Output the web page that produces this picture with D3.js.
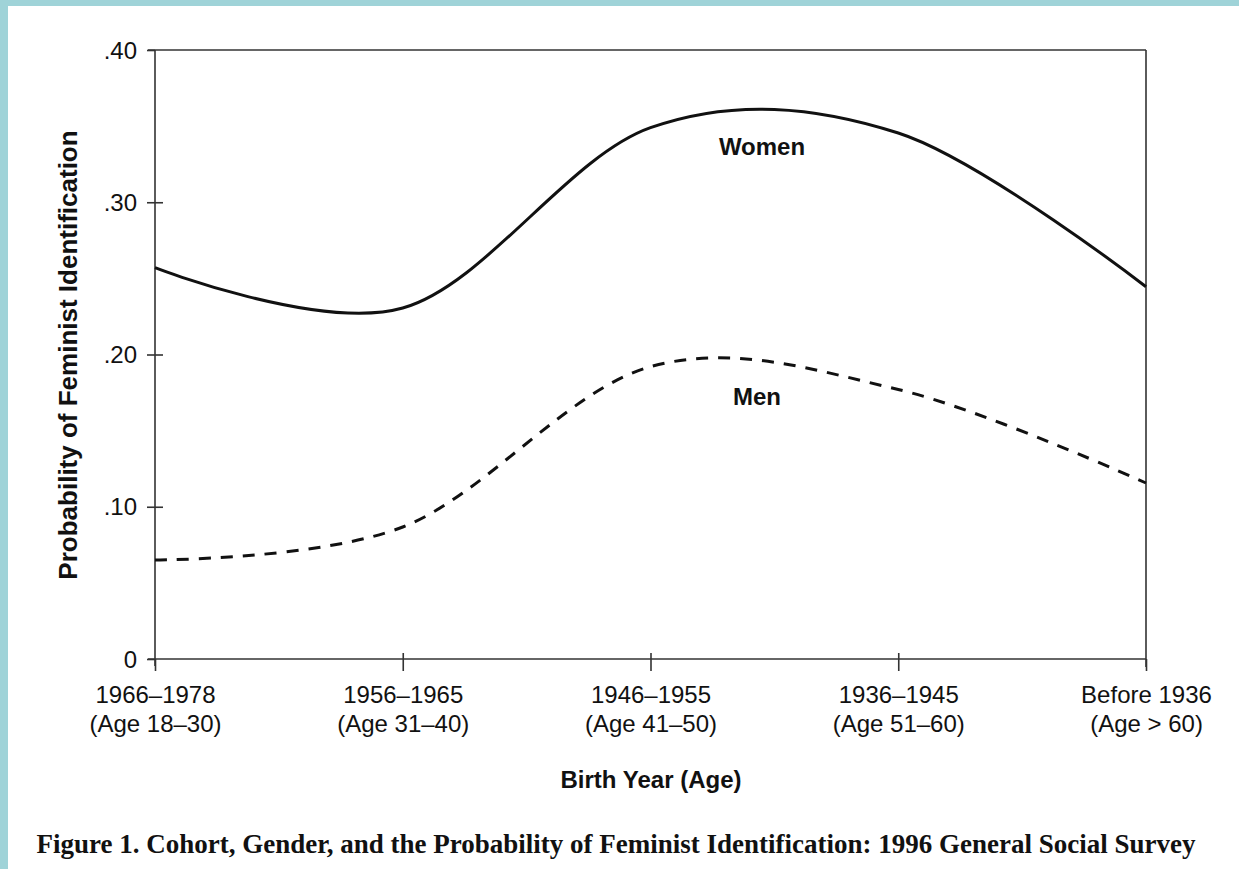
<!DOCTYPE html>
<html><head><meta charset="utf-8">
<script src="https://cdn.jsdelivr.net/npm/d3@7"></script>
<style>
html,body{margin:0;padding:0;background:#fff;}
svg{display:block;}
</style></head>
<body>
<script>
const categories = ["1966–1978", "1956–1965", "1946–1955", "1936–1945", "Before 1936"];
const ageLabels = ["(Age 18–30)", "(Age 31–40)", "(Age 41–50)", "(Age 51–60)", "(Age > 60)"];
const women = [0.257, 0.2305, 0.349, 0.3455, 0.2445];
const men = [0.065, 0.0867, 0.192, 0.177, 0.1156];
const yTicks = [0, 0.10, 0.20, 0.30, 0.40];
const yTickLabels = ["0", ".10", ".20", ".30", ".40"];

const W = 1239, H = 869;
const SANS = "Liberation Sans, Arial, Helvetica, sans-serif";
const svg = d3.select("body").append("svg").attr("width", W).attr("height", H);
svg.append("rect").attr("width", W).attr("height", H).attr("fill", "#9fd3d8");
svg.append("rect").attr("x", 8).attr("y", 6).attr("width", W - 8).attr("height", H - 6).attr("fill", "#fff");

const x = d3.scalePoint().domain(d3.range(categories.length)).range([155, 1146]);
const y = d3.scaleLinear().domain([0, 0.4]).range([659, 50]);

const axisColor = "#333";
// frame top and right
svg.append("line").attr("x1", 148).attr("x2", 1146).attr("y1", y(0.4)).attr("y2", y(0.4)).attr("stroke", axisColor).attr("stroke-width", 1.6);
svg.append("line").attr("x1", 1146).attr("x2", 1146).attr("y1", y(0.4)).attr("y2", 667).attr("stroke", axisColor).attr("stroke-width", 1.6);

// y axis
const yAxis = d3.axisLeft(y).tickValues(yTicks).tickFormat((d, i) => yTickLabels[i]).tickSizeInner(8).tickSizeOuter(0).tickPadding(10);
const gy = svg.append("g").attr("transform", "translate(155,0)").call(yAxis);
gy.select(".domain").remove();
gy.append("line").attr("x1", 0).attr("x2", 0).attr("y1", y(0.4)).attr("y2", 666).attr("stroke", axisColor).attr("stroke-width", 1.6);
gy.selectAll(".tick line").attr("x1", -8).attr("x2", 8).attr("stroke", axisColor).attr("stroke-width", 1.6)
  .filter(d => d === 0.4 || d === 0).attr("x2", 0);
gy.selectAll(".tick text").attr("font-family", SANS).attr("font-size", 24).attr("fill", "#111").attr("x", -18).attr("dy", "0.34em");

// x axis
const xAxis = d3.axisBottom(x).tickFormat("").tickSizeInner(0).tickSizeOuter(0);
const gx = svg.append("g").attr("transform", `translate(0,${y(0)})`).call(xAxis);
gx.select(".domain").remove();
gx.append("line").attr("x1", 148).attr("x2", 1146).attr("y1", 0).attr("y2", 0).attr("stroke", axisColor).attr("stroke-width", 1.6);
gx.selectAll(".tick line").attr("y1", -6).attr("y2", 12).attr("stroke", axisColor).attr("stroke-width", 1.6)
  .filter((d, i) => i === 0 || i === categories.length - 1).attr("y1", 0);
gx.selectAll(".tick").each(function(d, i) {
  const t = d3.select(this).append("text").attr("text-anchor", "middle")
    .attr("font-family", SANS).attr("font-size", 24).attr("fill", "#111");
  t.append("tspan").attr("x", 0).attr("y", 44).text(categories[i]);
  t.append("tspan").attr("x", 0).attr("y", 73).text(ageLabels[i]);
});

// lines
const line = d3.line().x((d, i) => x(i)).y(d => y(d)).curve(d3.curveCardinal.tension(0));
svg.append("path").datum(women).attr("d", line).attr("fill", "none").attr("stroke", "#111").attr("stroke-width", 3);
svg.append("path").datum(men).attr("d", line).attr("fill", "none").attr("stroke", "#111").attr("stroke-width", 3).attr("stroke-dasharray", "12,10");

// series labels
svg.append("text").attr("x", 762).attr("y", 155).attr("text-anchor", "middle").attr("font-family", SANS).attr("font-weight", "bold").attr("font-size", 24).attr("fill", "#111").text("Women");
svg.append("text").attr("x", 757).attr("y", 405).attr("text-anchor", "middle").attr("font-family", SANS).attr("font-weight", "bold").attr("font-size", 24).attr("fill", "#111").text("Men");

// axis titles
svg.append("text").attr("transform", "translate(77,355) rotate(-90)").attr("text-anchor", "middle").attr("font-family", SANS).attr("font-weight", "bold").attr("font-size", 26).attr("fill", "#111").text("Probability of Feminist Identification");
svg.append("text").attr("x", 651).attr("y", 788).attr("text-anchor", "middle").attr("font-family", SANS).attr("font-weight", "bold").attr("font-size", 24).attr("fill", "#111").text("Birth Year (Age)");

// caption
svg.append("text").attr("x", 616).attr("y", 853).attr("text-anchor", "middle").attr("font-family", "Liberation Serif, Times New Roman, serif").attr("font-weight", "bold").attr("font-size", 27).attr("fill", "#111").text("Figure 1. Cohort, Gender, and the Probability of Feminist Identification: 1996 General Social Survey");
</script>
</body></html>
